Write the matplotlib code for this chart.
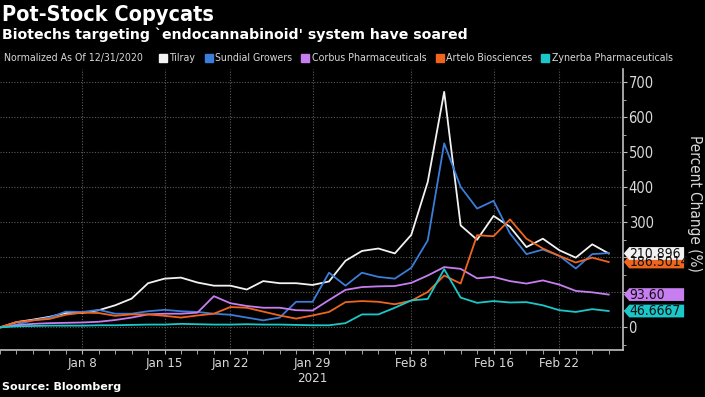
import matplotlib
matplotlib.use("Agg")
import matplotlib.pyplot as plt
import matplotlib.transforms as mtransforms
from matplotlib.patches import Polygon
from matplotlib.lines import Line2D
import numpy as np

# trading days from 12/31/2020 to 2/25/2021
days = ["Dec 31", "Jan 4", "Jan 5", "Jan 6", "Jan 7", "Jan 8", "Jan 11", "Jan 12", "Jan 13",
        "Jan 14", "Jan 15", "Jan 19", "Jan 20", "Jan 21", "Jan 22", "Jan 25", "Jan 26",
        "Jan 27", "Jan 28", "Jan 29", "Feb 1", "Feb 2", "Feb 3", "Feb 4", "Feb 5", "Feb 8",
        "Feb 9", "Feb 10", "Feb 11", "Feb 12", "Feb 16", "Feb 17", "Feb 18", "Feb 19",
        "Feb 22", "Feb 23", "Feb 24", "Feb 25"]

tilray = [0, 15, 22, 30, 41, 41, 49, 63, 82, 126, 139, 142, 128, 119, 119, 108, 132, 126, 126,
          121, 131, 190, 218, 225, 211, 264, 415, 672, 291, 250, 318, 287, 229, 253, 220, 199,
          237, 210.896]
sundial = [0, 8, 20, 28, 45, 44, 50, 39, 39, 46, 50, 46, 44, 39, 36, 28, 20, 28, 73, 73, 156,
           119, 156, 144, 139, 170, 248, 525, 401, 339, 361, 268, 209, 222, 204, 168, 209, 212]
corbus = [0, 6, 10, 12, 13, 14, 16, 21, 28, 37, 39, 39, 42, 89, 69, 61, 56, 56, 49, 48, 78,
          107, 115, 117, 118, 127, 148, 172, 167, 140, 144, 132, 125, 134, 122, 104, 100, 93.60]
artelo = [0, 15, 20, 24, 36, 42, 41, 33, 37, 37, 33, 28, 34, 39, 58, 56, 45, 34, 25, 34, 44,
          72, 75, 73, 66, 76, 101, 148, 125, 263, 260, 308, 253, 225, 204, 185, 199, 186.5014]
zynerba = [0, 3, 4, 5, 5, 5, 6, 6, 7, 8, 8, 10, 9, 8, 8, 9, 8, 8, 7, 6, 6, 12, 37, 37, 56, 77,
           81, 166, 85, 70, 75, 71, 72, 63, 49, 44, 52, 46.6667]

names = ["Tilray", "Sundial Growers", "Corbus Pharmaceuticals", "Artelo Biosciences",
         "Zynerba Pharmaceuticals"]
series = [tilray, sundial, corbus, artelo, zynerba]
colors = ["#f2f2f2", "#3b7dd8", "#c77ef0", "#f0651e", "#1cc7c9"]
# tags on the right axis: (series index, text), drawn in this order
tags = [(3, "186.5014"), (0, "210.896"), (2, "93.60"), (4, "46.6667")]

tick_days = ["Jan 8", "Jan 15", "Jan 22", "Jan 29", "Feb 8", "Feb 16", "Feb 22"]
yticks = [0, 100, 200, 300, 400, 500, 600, 700]
hidden_yticks = [100, 200]  # covered by the tags in the original

fg = "#d9d9d9"
cond = dict(family="DejaVu Sans", stretch="condensed")

fig = plt.figure(figsize=(7.05, 3.97), dpi=100, facecolor="black")
ax = fig.add_axes([0.0, 0.118, 0.8837, 0.708], facecolor="black")

x = np.arange(len(days))
for s, c in zip(series, colors):
    ax.plot(x, s, color=c, lw=1.3)

ax.set_xlim(0, 37.87)
ax.set_ylim(-65, 737)

ax.yaxis.tick_right()
ax.set_yticks(yticks)
ax.set_yticklabels(["" if v in hidden_yticks else str(v) for v in yticks])
ax.set_yticks(np.arange(-50, 701, 50), minor=True)
fig.text(0.985, 0.488, "Percent Change (%)", rotation=270, color=fg, fontsize=11,
         ha="center", va="center", **cond)

ticks = [days.index(d) for d in tick_days]
labels = [d if d != "Jan 29" else "Jan 29\n2021" for d in tick_days]
ax.set_xticks(ticks)
ax.set_xticklabels(labels)
ax.set_xticks(x, minor=True)

ax.tick_params(axis="both", which="both", colors="#bfbfbf", labelcolor=fg)
ax.tick_params(axis="x", which="major", length=3, labelsize=9.5, pad=2)
ax.tick_params(axis="x", which="minor", length=3)
ax.tick_params(axis="y", which="major", length=3, labelsize=10.5, pad=1)
ax.tick_params(axis="y", which="minor", length=2)
for lab in ax.get_xticklabels() + ax.get_yticklabels():
    lab.set_family(cond["family"])
    lab.set_stretch(cond["stretch"])

for sp in ["top", "left"]:
    ax.spines[sp].set_visible(False)
for sp in ["bottom", "right"]:
    ax.spines[sp].set_color("#bfbfbf")
    ax.spines[sp].set_linewidth(1.2)

ax.grid(True, which="major", color="#5a5a5a", linestyle=(0, (1, 1.5)), lw=0.8)

# value tags on the right axis
blend = mtransforms.blended_transform_factory(ax.transAxes, ax.transData)
k = fig.dpi / 72.0
for i, lab in tags:
    val = series[i][-1]
    tr = mtransforms.Affine2D().scale(k) + mtransforms.ScaledTranslation(1, val, blend)
    verts = [(0.6, 0), (4.5, 4.6), (44, 4.6), (44, -4.6), (4.5, -4.6)]
    poly = Polygon(verts, closed=True, transform=tr, facecolor=colors[i], edgecolor="none",
                   clip_on=False, zorder=5)
    ax.add_patch(poly)
    ax.annotate(lab, xy=(1, val), xycoords=blend, xytext=(4.6, -0.3), textcoords="offset points",
                ha="left", va="center", fontsize=10, color="#111111",
                annotation_clip=False, zorder=6, **cond)

fig.text(0.003, 0.962, "Pot-Stock Copycats", color="white", fontsize=15.5, fontweight="bold",
         va="center", ha="left", **cond)
fig.text(0.003, 0.912, "Biotechs targeting `endocannabinoid' system have soared", color="white",
         fontsize=10.2, fontweight="bold", va="center", ha="left")
fig.text(0.005, 0.853, "Normalized As Of 12/31/2020", color=fg, fontsize=7.6, va="center",
         ha="left", **cond)

handles = [Line2D([], [], marker="s", ms=5.5, lw=0, color=c) for c in colors]
leg = fig.legend(handles, names, loc="center left", bbox_to_anchor=(0.227, 0.853), ncol=5,
                 frameon=False, handlelength=0.6, handletextpad=0.3, columnspacing=0.95,
                 borderpad=0, borderaxespad=0, prop=dict(size=7.6, **cond))
for t in leg.get_texts():
    t.set_color(fg)

fig.text(0.003, 0.025, "Source: Bloomberg", color="white", fontsize=8, fontweight="bold",
         va="center", ha="left")

fig.savefig("out.png", dpi=100, facecolor="black")
